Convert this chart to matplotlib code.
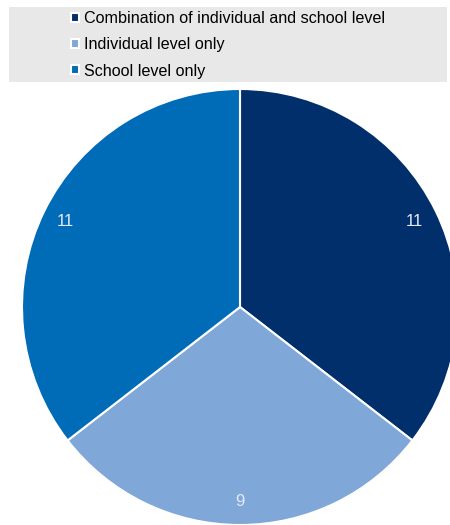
import matplotlib.pyplot as plt
from matplotlib.patches import Rectangle

categories = ['Combination of individual and school level',
              'Individual level only',
              'School level only']
counts = [11, 9, 11]
colors = ['#002F6C', '#7FA8D9', '#006BB6']

plt.rcParams['font.family'] = ['Liberation Sans', 'DejaVu Sans']

fig = plt.figure(figsize=(4.5, 5.25), dpi=100)

# grey legend background
fig.patches.append(Rectangle((9 / 450, 1 - 82 / 525), 438 / 450, 75 / 525,
                             transform=fig.transFigure, facecolor='#e8e8e8',
                             edgecolor='none', zorder=0))

# pie centred at (240, 307) px, radius 218 px
ax = fig.add_axes([22 / 450, 0.0, 436 / 450, 436 / 525])
wedges, texts = ax.pie(counts, colors=colors, startangle=90, counterclock=False,
                       labels=[str(c) for c in counts], labeldistance=0.89,
                       wedgeprops=dict(edgecolor='white', linewidth=1.5),
                       textprops=dict(color='#e4eaf2', fontsize=12))
for t in texts:
    t.set_ha('center')
    t.set_va('center')
ax.set_xlim(-1, 1)
ax.set_ylim(-1, 1)
ax.set_aspect('equal')
ax.axis('off')

fig.legend(wedges, categories, loc='upper left',
           bbox_to_anchor=(71 / 450, 1 - 11 / 525), frameon=False,
           fontsize=11.6, handlelength=0.48, handleheight=0.48,
           handletextpad=0.35, labelspacing=0.7, borderpad=0.0,
           borderaxespad=0.0)

plt.savefig('out.png', dpi=100)
